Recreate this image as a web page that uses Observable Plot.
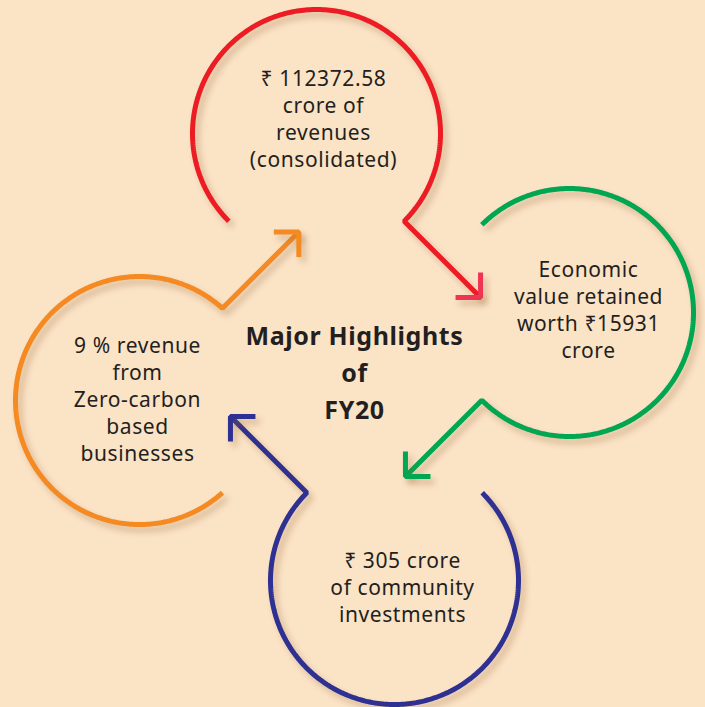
<!DOCTYPE html>
<html><head><meta charset="utf-8">
<script src="https://cdn.jsdelivr.net/npm/d3@7"></script>
<script src="https://cdn.jsdelivr.net/npm/@observablehq/plot@0.6"></script>
<style>
html,body{margin:0;padding:0;background:#fbe3c6;}
#chart svg g[aria-label="line"]{filter: drop-shadow(4px 5px 3px rgba(150,100,50,0.35));}
#chart svg g[aria-label="text"]{letter-spacing:0.6px;}
</style></head><body><div id="chart"></div>
<script>
// Content
const highlights = [
  "₹ 112372.58\ncrore of\nrevenues\n(consolidated)",
  "Economic\nvalue retained\nworth ₹15931\ncrore",
  "₹ 305 crore\nof community\ninvestments",
  "9 % revenue\nfrom\nZero-carbon\nbased\nbusinesses"
];
const title = "Major Highlights\nof\nFY20";
// Styles
const ringColors = ["#ed1c24", "#00a651", "#2e3192", "#f58a22"];
const headColors = ["#ee3553", "#00a651", "#2e3192", "#f58a22"];
// Layout (pixel space)
const ringX = [316, 569, 394, 139];
const ringY = [133, 312, 580, 400];
const gapDir = [90, 180, 270, 0];
const halfGap = [45, 45, 45, 48];
const textX = [323, 588, 402, 137];
const textY = [117, 308, 586, 398];
const titleX = [354], titleY = [370];
const R = 124, SHAFT = 108, HEAD = 25;

const rad = d => d * Math.PI / 180;
const rings = [], heads = [];
ringX.forEach((cx, i) => {
  const cy = ringY[i], g = gapDir[i], h = halfGap[i];
  for (let a = g + h; a <= g + 360 - h + 1e-9; a += 1) {
    rings.push({id: i, x: cx + R * Math.cos(rad(a)), y: cy + R * Math.sin(rad(a)), c: ringColors[i]});
  }
  const k = rad(g - h), d = rad(g - 45);
  const kx = cx + R * Math.cos(k), ky = cy + R * Math.sin(k);
  const sx = Math.sign(Math.round(Math.cos(d) * 1000)), sy = Math.sign(Math.round(Math.sin(d) * 1000));
  const tx = kx + SHAFT * Math.cos(d), ty = ky + SHAFT * Math.sin(d);
  rings.push({id: i, x: tx, y: ty, c: ringColors[i]});
  heads.push({id: i, x: tx - sx * HEAD, y: ty, c: headColors[i]});
  heads.push({id: i, x: tx, y: ty, c: headColors[i]});
  heads.push({id: i, x: tx, y: ty - sy * HEAD, c: headColors[i]});
});

const labels = highlights.map((t, i) => ({t, x: textX[i], y: textY[i]}));
const titles = [{t: title, x: titleX[0], y: titleY[0]}];

const chart = Plot.plot({
  width: 705, height: 707,
  margin: 0,
  style: {background: "#fbe3c6", fontFamily: "'Noto Sans', sans-serif"},
  x: {domain: [0, 705], range: [0, 705], axis: null},
  y: {domain: [0, 707], range: [0, 707], axis: null},
  color: {type: "identity"},
  marks: [
    Plot.line(rings, {x: "x", y: "y", z: "id", stroke: "c", strokeWidth: 5, strokeLinejoin: "miter", strokeLinecap: "butt"}),
    Plot.line(heads, {x: "x", y: "y", z: "id", stroke: "c", strokeWidth: 5, strokeLinejoin: "miter", strokeLinecap: "butt"}),
    Plot.text(labels, {x: "x", y: "y", text: "t", fontSize: 21, lineHeight: 1.29, lineAnchor: "middle", fill: "#231f20"}),
    Plot.text(titles, {x: "x", y: "y", text: "t", fontSize: 25, fontWeight: "bold", lineHeight: 1.48, lineAnchor: "middle", fill: "#231f20"})
  ]
});
document.getElementById("chart").append(chart);
</script></body></html>
